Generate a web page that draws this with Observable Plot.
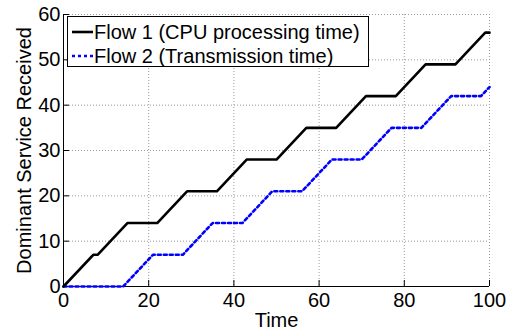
<!DOCTYPE html>
<html>
<head>
<meta charset="utf-8">
<script src="https://cdn.jsdelivr.net/npm/d3@7"></script>
<script src="https://cdn.jsdelivr.net/npm/@observablehq/plot@0.6"></script>
<style>
  html, body { margin: 0; padding: 0; background: #fff; }
  #wrap { position: relative; width: 518px; height: 330px; font-family: "Liberation Sans", Arial, sans-serif; }
  #legend { position: absolute; left: 67px; top: 16px; width: 300px; height: 49px; border: 1.5px solid #000; background: #fff; font-size: 20px; }
  .row { position: absolute; left: 0; height: 24px; line-height: 24px; white-space: nowrap; }
  .row svg { position: absolute; left: 4px; top: 0; }
  .row span { position: absolute; left: 26px; top: 0; }
</style>
</head>
<body>
<div id="wrap"></div>
<script>
const flow1X = [0, 7, 8, 15, 22, 29, 36, 43, 50, 57, 64, 71, 78, 85, 92, 99, 100];
const flow1Y = [0, 7, 7, 14, 14, 21, 21, 28, 28, 35, 35, 42, 42, 49, 49, 56, 56];
const flow2X = [0, 14, 21, 28, 35, 42, 49, 56, 63, 70, 77, 84, 91, 98, 100];
const flow2Y = [0, 0, 7, 7, 14, 14, 21, 21, 28, 28, 35, 35, 42, 42, 44];
const seriesNames = ["Flow 1 (CPU processing time)", "Flow 2 (Transmission time)"];
const seriesColors = ["#000000", "#0000ff"];
const seriesDash = [null, "3,3"];
const xTicks = [0, 20, 40, 60, 80, 100];
const yTicks = [0, 10, 20, 30, 40, 50, 60];

const flow1 = flow1X.map((x, i) => ({x, y: flow1Y[i]}));
const flow2 = flow2X.map((x, i) => ({x, y: flow2Y[i]}));

const chart = Plot.plot({
  width: 518,
  height: 330,
  marginLeft: 63,
  marginRight: 29,
  marginTop: 14,
  marginBottom: 44,
  style: {fontFamily: "Liberation Sans, Arial, sans-serif", fontSize: "20px", color: "#000", background: "#fff"},
  x: {domain: [0, 100], ticks: xTicks},
  y: {domain: [0, 60], ticks: yTicks},
  marks: [
    Plot.gridX(xTicks, {stroke: "#9a9a9a", strokeOpacity: 1, strokeWidth: 1, strokeDasharray: "1,2"}),
    Plot.gridY(yTicks, {stroke: "#9a9a9a", strokeOpacity: 1, strokeWidth: 1, strokeDasharray: "1,2"}),
    Plot.axisX(xTicks, {tickSize: -6, tickPadding: 12, fontSize: 20, label: "Time", labelAnchor: "center", labelArrow: false, labelOffset: 40}),
    Plot.axisY(yTicks, {tickSize: -6, tickPadding: 9, fontSize: 20, label: "Dominant Service Received", labelAnchor: "center", labelArrow: false, labelOffset: 47}),
    Plot.ruleY([0], {stroke: "#000", strokeWidth: 1}),
    Plot.ruleX([0], {stroke: "#000", strokeWidth: 1}),
    Plot.line(flow2, {x: "x", y: "y", stroke: seriesColors[1], strokeWidth: 2.6, strokeDasharray: seriesDash[1]}),
    Plot.line(flow1, {x: "x", y: "y", stroke: seriesColors[0], strokeWidth: 2.6})
  ]
});
const wrap = document.getElementById("wrap");
wrap.appendChild(chart);

const legend = document.createElement("div");
legend.id = "legend";
seriesNames.forEach((name, i) => {
  const row = document.createElement("div");
  row.className = "row";
  row.style.top = (3 + i * 24) + "px";
  const dash = seriesDash[i] ? `stroke-dasharray="${seriesDash[i]}"` : "";
  row.innerHTML = `<svg width="22" height="24"><line x1="0" x2="21" y1="12" y2="12" stroke="${seriesColors[i]}" stroke-width="2.6" ${dash}/></svg><span>${name}</span>`;
  legend.appendChild(row);
});
wrap.appendChild(legend);
</script>
</body>
</html>
